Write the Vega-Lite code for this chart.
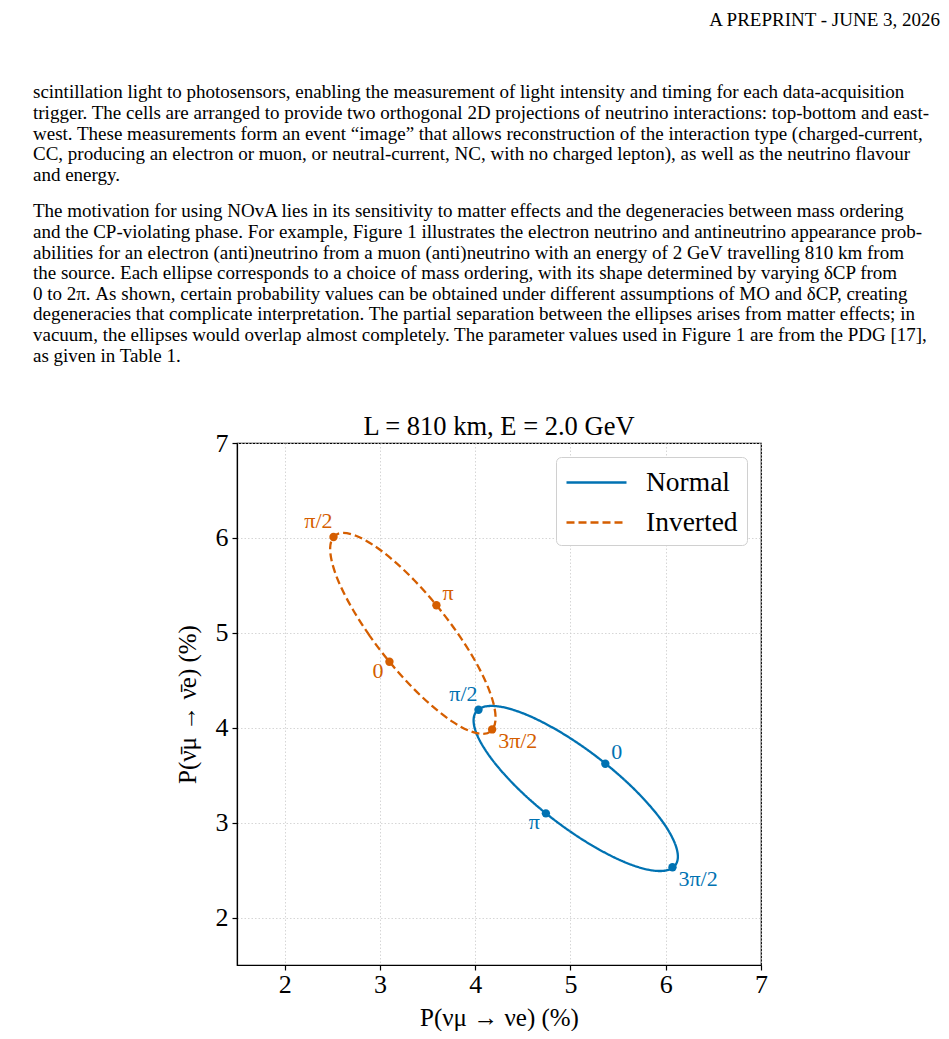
{
  "$schema": "https://vega.github.io/schema/vega-lite/v6.json",
  "padding": {"left": 33, "top": 11, "right": 0, "bottom": 0},
  "background": "white",
  "title": {"text": "A PREPRINT - JUNE 3, 2026", "anchor": "end", "font": "Liberation Serif", "fontSize": 19, "fontWeight": "normal", "color": "black", "offset": 52, "dx": -3},
  "config": {
    "font": "Liberation Serif",
    "view": {"stroke": null},
    "axis": {
      "labelFont": "Liberation Serif", "labelFontSize": 26, "labelColor": "black",
      "titleFont": "Liberation Serif", "titleFontSize": 25, "titleFontWeight": "normal", "titleColor": "black",
      "domainColor": "black", "domainWidth": 1.2, "tickColor": "black", "tickSize": 5, "tickWidth": 1.2,
      "grid": true, "gridColor": "#cccccc", "gridDash": [1.5, 2], "gridWidth": 0.8,
      "labelPadding": 4, "labelFlush": false, "labelOverlap": false
    }
  },
  "datasets": {
    "para1": [
      {"line": 1, "text": "scintillation light to photosensors, enabling the measurement of light intensity and timing for each data-acquisition"},
      {"line": 2, "text": "trigger. The cells are arranged to provide two orthogonal 2D projections of neutrino interactions: top-bottom and east-"},
      {"line": 3, "text": "west. These measurements form an event “image” that allows reconstruction of the interaction type (charged-current,"},
      {"line": 4, "text": "CC, producing an electron or muon, or neutral-current, NC, with no charged lepton), as well as the neutrino flavour"},
      {"line": 5, "text": "and energy."}
    ],
    "para2": [
      {"line": 1, "text": "The motivation for using NOvA lies in its sensitivity to matter effects and the degeneracies between mass ordering"},
      {"line": 2, "text": "and the CP-violating phase. For example, Figure 1 illustrates the electron neutrino and antineutrino appearance prob-"},
      {"line": 3, "text": "abilities for an electron (anti)neutrino from a muon (anti)neutrino with an energy of 2 GeV travelling 810 km from"},
      {"line": 4, "text": "the source. Each ellipse corresponds to a choice of mass ordering, with its shape determined by varying δCP from"},
      {"line": 5, "text": "0 to 2π. As shown, certain probability values can be obtained under different assumptions of MO and δCP, creating"},
      {"line": 6, "text": "degeneracies that complicate interpretation. The partial separation between the ellipses arises from matter effects; in"},
      {"line": 7, "text": "vacuum, the ellipses would overlap almost completely. The parameter values used in Figure 1 are from the PDG [17],"},
      {"line": 8, "text": "as given in Table 1."}
    ],
    "curves": [
      {"series": "Normal", "order": 0, "x": 5.370, "y": 3.620},
      {"series": "Normal", "order": 1, "x": 5.094, "y": 3.826},
      {"series": "Normal", "order": 2, "x": 4.815, "y": 4.000},
      {"series": "Normal", "order": 3, "x": 4.553, "y": 4.131},
      {"series": "Normal", "order": 4, "x": 4.325, "y": 4.209},
      {"series": "Normal", "order": 5, "x": 4.147, "y": 4.229},
      {"series": "Normal", "order": 6, "x": 4.030, "y": 4.190},
      {"series": "Normal", "order": 7, "x": 3.984, "y": 4.094},
      {"series": "Normal", "order": 8, "x": 4.010, "y": 3.949},
      {"series": "Normal", "order": 9, "x": 4.108, "y": 3.763},
      {"series": "Normal", "order": 10, "x": 4.270, "y": 3.550},
      {"series": "Normal", "order": 11, "x": 4.485, "y": 3.324},
      {"series": "Normal", "order": 12, "x": 4.740, "y": 3.100},
      {"series": "Normal", "order": 13, "x": 5.016, "y": 2.894},
      {"series": "Normal", "order": 14, "x": 5.295, "y": 2.720},
      {"series": "Normal", "order": 15, "x": 5.557, "y": 2.589},
      {"series": "Normal", "order": 16, "x": 5.785, "y": 2.511},
      {"series": "Normal", "order": 17, "x": 5.964, "y": 2.491},
      {"series": "Normal", "order": 18, "x": 6.080, "y": 2.530},
      {"series": "Normal", "order": 19, "x": 6.127, "y": 2.626},
      {"series": "Normal", "order": 20, "x": 6.100, "y": 2.771},
      {"series": "Normal", "order": 21, "x": 6.003, "y": 2.957},
      {"series": "Normal", "order": 22, "x": 5.840, "y": 3.170},
      {"series": "Normal", "order": 23, "x": 5.625, "y": 3.396},
      {"series": "Inverted", "order": 0, "x": 3.100, "y": 4.695},
      {"series": "Inverted", "order": 1, "x": 2.893, "y": 4.968},
      {"series": "Inverted", "order": 2, "x": 2.717, "y": 5.243},
      {"series": "Inverted", "order": 3, "x": 2.583, "y": 5.501},
      {"series": "Inverted", "order": 4, "x": 2.502, "y": 5.724},
      {"series": "Inverted", "order": 5, "x": 2.478, "y": 5.898},
      {"series": "Inverted", "order": 6, "x": 2.513, "y": 6.010},
      {"series": "Inverted", "order": 7, "x": 2.605, "y": 6.053},
      {"series": "Inverted", "order": 8, "x": 2.748, "y": 6.023},
      {"series": "Inverted", "order": 9, "x": 2.931, "y": 5.924},
      {"series": "Inverted", "order": 10, "x": 3.143, "y": 5.761},
      {"series": "Inverted", "order": 11, "x": 3.368, "y": 5.546},
      {"series": "Inverted", "order": 12, "x": 3.592, "y": 5.293},
      {"series": "Inverted", "order": 13, "x": 3.799, "y": 5.020},
      {"series": "Inverted", "order": 14, "x": 3.976, "y": 4.745},
      {"series": "Inverted", "order": 15, "x": 4.109, "y": 4.487},
      {"series": "Inverted", "order": 16, "x": 4.190, "y": 4.264},
      {"series": "Inverted", "order": 17, "x": 4.214, "y": 4.090},
      {"series": "Inverted", "order": 18, "x": 4.179, "y": 3.978},
      {"series": "Inverted", "order": 19, "x": 4.087, "y": 3.935},
      {"series": "Inverted", "order": 20, "x": 3.944, "y": 3.965},
      {"series": "Inverted", "order": 21, "x": 3.761, "y": 4.064},
      {"series": "Inverted", "order": 22, "x": 3.550, "y": 4.227},
      {"series": "Inverted", "order": 23, "x": 3.324, "y": 4.442}
    ],
    "markers": [
      {"series": "Normal", "label": "0", "place": "ur", "x": 5.366, "y": 3.621},
      {"series": "Normal", "label": "π/2", "place": "ul", "x": 4.035, "y": 4.190},
      {"series": "Normal", "label": "π", "place": "ll", "x": 4.742, "y": 3.098},
      {"series": "Normal", "label": "3π/2", "place": "lr", "x": 6.071, "y": 2.530},
      {"series": "Inverted", "label": "0", "place": "ll", "x": 3.100, "y": 4.695},
      {"series": "Inverted", "label": "π/2", "place": "ul", "x": 2.513, "y": 6.010},
      {"series": "Inverted", "label": "π", "place": "ur", "x": 3.593, "y": 5.290},
      {"series": "Inverted", "label": "3π/2", "place": "lr", "x": 4.178, "y": 3.982}
    ]
  },
  "spacing": 46,
  "resolve": {"scale": {"color": "independent", "strokeDash": "independent"}, "legend": {"color": "independent", "strokeDash": "independent"}},
  "vconcat": [
    {
      "spacing": 16,
      "vconcat": [
        {
          "width": 910, "height": 103,
          "data": {"name": "para1"},
          "mark": {"type": "text", "align": "left", "baseline": "middle", "font": "Liberation Serif", "fontSize": 19, "color": "black"},
          "encoding": {
            "y": {"field": "line", "type": "ordinal", "axis": null},
            "x": {"datum": 0, "type": "quantitative", "scale": {"domain": [0, 1]}, "axis": null},
            "text": {"field": "text"}
          }
        },
        {
          "width": 910, "height": 165,
          "data": {"name": "para2"},
          "mark": {"type": "text", "align": "left", "baseline": "middle", "font": "Liberation Serif", "fontSize": 19, "color": "black"},
          "encoding": {
            "y": {"field": "line", "type": "ordinal", "axis": null},
            "x": {"datum": 0, "type": "quantitative", "scale": {"domain": [0, 1]}, "axis": null},
            "text": {"field": "text"}
          }
        }
      ]
    },
    {
      "spacing": 140,
      "resolve": {"scale": {"color": "independent", "strokeDash": "independent"}, "legend": {"color": "independent", "strokeDash": "independent"}},
      "hconcat": [
        {
          "width": 1, "height": 1,
          "data": {"values": [{"t": ""}]},
          "mark": {"type": "text"},
          "encoding": {"text": {"field": "t"}}
        },
        {
          "width": 524, "height": 522,
          "view": {"stroke": "black", "strokeWidth": 1.2},
          "title": {"text": "L = 810 km, E = 2.0 GeV", "font": "Liberation Serif", "fontSize": 26.5, "fontWeight": "normal", "color": "black", "offset": -10},
          "encoding": {
            "x": {"field": "x", "type": "quantitative", "scale": {"domain": [1.5, 7], "nice": false, "zero": false},
                  "axis": {"values": [2, 3, 4, 5, 6, 7], "title": "P(νμ → νe) (%)", "titlePadding": 8, "labelPadding": 1}},
            "y": {"field": "y", "type": "quantitative", "scale": {"domain": [1.5, 7], "nice": false, "zero": false},
                  "axis": {"values": [2, 3, 4, 5, 6, 7], "title": "P(ν̄μ → ν̄e) (%)", "titlePadding": 15}}
          },
          "layer": [
            {
              "data": {"name": "curves"},
              "mark": {"type": "line", "interpolate": "cardinal-closed", "strokeWidth": 2.3},
              "encoding": {
                "order": {"field": "order", "type": "quantitative"},
                "color": {"field": "series", "type": "nominal",
                          "scale": {"domain": ["Normal", "Inverted"], "range": ["#0072B2", "#D55E00"]},
                          "legend": {"title": null, "orient": "top-right", "offset": 14, "symbolType": "M-1,0H3", "symbolSize": 900, "symbolStrokeWidth": 2.3,
                                     "labelFont": "Liberation Serif", "labelFontSize": 27.5, "labelColor": "black", "labelOffset": 48, "labelLimit": 300,
                                     "strokeColor": "#d0d0d0", "fillColor": "white", "cornerRadius": 5, "padding": 9, "rowPadding": 10}},
                "strokeDash": {"field": "series", "type": "nominal",
                               "scale": {"domain": ["Normal", "Inverted"], "range": [[1, 0], [8, 4]]},
                               "legend": {"title": null, "orient": "top-right", "offset": 14, "symbolType": "M-1,0H3", "symbolSize": 900, "symbolStrokeWidth": 2.3,
                                          "labelFont": "Liberation Serif", "labelFontSize": 27.5, "labelColor": "black", "labelOffset": 48, "labelLimit": 300,
                                          "strokeColor": "#d0d0d0", "fillColor": "white", "cornerRadius": 5, "padding": 9, "rowPadding": 10}}
              }
            },
            {
              "data": {"name": "markers"},
              "mark": {"type": "circle", "size": 70, "opacity": 1},
              "encoding": {"color": {"field": "series", "type": "nominal"}}
            },
            {
              "data": {"name": "markers"},
              "transform": [{"filter": "datum.place === 'ul'"}],
              "mark": {"type": "text", "align": "right", "baseline": "alphabetic", "dx": -1, "dy": -9, "font": "Liberation Serif", "fontSize": 22},
              "encoding": {"text": {"field": "label"}, "color": {"field": "series", "type": "nominal"}}
            },
            {
              "data": {"name": "markers"},
              "transform": [{"filter": "datum.place === 'ur'"}],
              "mark": {"type": "text", "align": "left", "baseline": "alphabetic", "dx": 6, "dy": -5, "font": "Liberation Serif", "fontSize": 22},
              "encoding": {"text": {"field": "label"}, "color": {"field": "series", "type": "nominal"}}
            },
            {
              "data": {"name": "markers"},
              "transform": [{"filter": "datum.place === 'll'"}],
              "mark": {"type": "text", "align": "right", "baseline": "top", "dx": -6, "dy": -1, "font": "Liberation Serif", "fontSize": 22},
              "encoding": {"text": {"field": "label"}, "color": {"field": "series", "type": "nominal"}}
            },
            {
              "data": {"name": "markers"},
              "transform": [{"filter": "datum.place === 'lr'"}],
              "mark": {"type": "text", "align": "left", "baseline": "top", "dx": 6, "dy": 2, "font": "Liberation Serif", "fontSize": 22},
              "encoding": {"text": {"field": "label"}, "color": {"field": "series", "type": "nominal"}}
            }
          ]
        }
      ]
    }
  ]
}
